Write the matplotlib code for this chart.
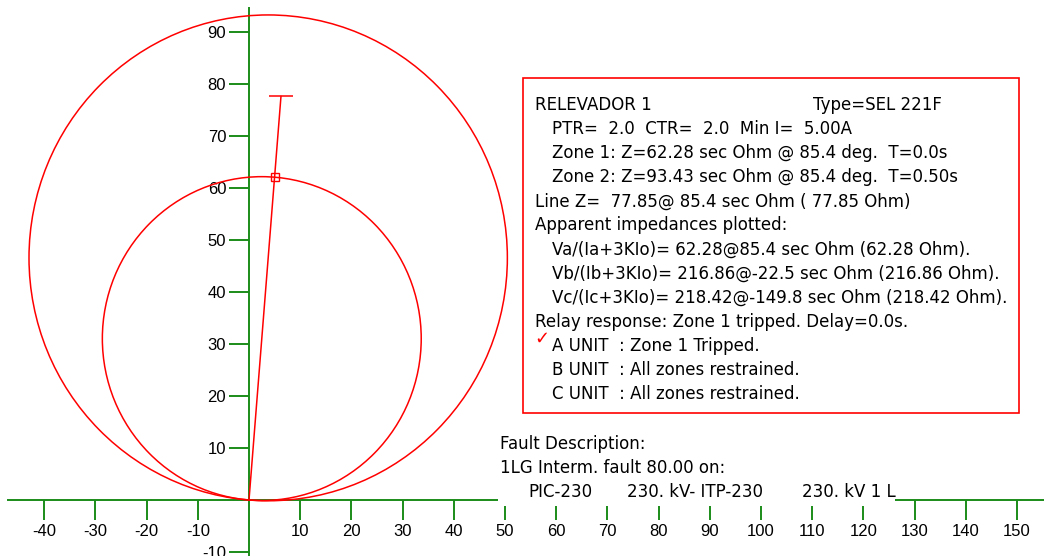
"""
Diagrama R-X do relé de distância (característica mho) com impedância aparente.
"""

import numpy as np
import matplotlib
matplotlib.use("Agg")
import matplotlib.pyplot as plt
from matplotlib.patches import Circle, Rectangle

# Dados do relé
ZONE_REACH = [62.28, 93.43]      # alcance das zonas (sec Ohm)
ZONE_ANGLE = 85.4                # ângulo de torque máximo (graus)
LINE_Z = 77.85                   # impedância da linha
LINE_ANGLE = 85.4
APPARENT_Z = 62.28               # impedância aparente da fase A
APPARENT_ANGLE = 85.4

X_TICKS = [-40, -30, -20, -10, 10, 20, 30, 40, 50, 60, 70, 80, 90,
           100, 110, 120, 130, 140, 150]
Y_TICKS = [-10, 10, 20, 30, 40, 50, 60, 70, 80, 90]

# linhas com espaço inicial são recuadas
INFO_LINES = [
    "RELEVADOR 1",
    " PTR=  2.0  CTR=  2.0  Min I=  5.00A",
    " Zone 1: Z=62.28 sec Ohm @ 85.4 deg.  T=0.0s",
    " Zone 2: Z=93.43 sec Ohm @ 85.4 deg.  T=0.50s",
    "Line Z=  77.85@ 85.4 sec Ohm ( 77.85 Ohm)",
    "Apparent impedances plotted:",
    " Va/(Ia+3KIo)= 62.28@85.4 sec Ohm (62.28 Ohm).",
    " Vb/(Ib+3KIo)= 216.86@-22.5 sec Ohm (216.86 Ohm).",
    " Vc/(Ic+3KIo)= 218.42@-149.8 sec Ohm (218.42 Ohm).",
    "Relay response: Zone 1 tripped. Delay=0.0s.",
    " A UNIT  : Zone 1 Tripped.",
    " B UNIT  : All zones restrained.",
    " C UNIT  : All zones restrained.",
]
RELAY_TYPE = "Type=SEL 221F"
FAULT_LINES = ["Fault Description:", "1LG Interm. fault 80.00 on:"]
FAULT_BUSES = ["PIC-230", "230. kV- ITP-230", "230. kV 1 L"]

W, H = 1044, 556
GREEN = "#1a8c1a"
RED = "#ff0000"
TXT = dict(fontsize=12, family="DejaVu Sans", va="center", ha="left", zorder=3)


def polar(mag, ang):
    a = np.deg2rad(ang)
    return mag * np.cos(a), mag * np.sin(a)


def fx(px):
    return px / W


def fy(py):
    return 1 - py / H


def main():
    plt.rcParams["font.family"] = ["Liberation Sans", "DejaVu Sans"]
    fig = plt.figure(figsize=(W / 100, H / 100), dpi=100)
    ax = fig.add_axes([0, 0, 1, 1])
    ax.set_xlim(-249 / 5.12, (W - 249) / 5.12)
    ax.set_ylim(-(H - 500) / 5.2, 500 / 5.2)
    ax.patch.set_alpha(0)

    # Eixos R e X
    for s in ["top", "right"]:
        ax.spines[s].set_visible(False)
    for s in ["left", "bottom"]:
        ax.spines[s].set_position(("data", 0))
        ax.spines[s].set_color(GREEN)
        ax.spines[s].set_linewidth(1.4)
    ax.spines["left"].set_bounds(-11, 94.6)
    ax.spines["bottom"].set_bounds(-47, 160)
    ax.set_xticks(X_TICKS)
    ax.set_yticks(Y_TICKS)
    ax.set_xticklabels([str(v) for v in X_TICKS])
    ax.set_yticklabels([str(v) for v in Y_TICKS])
    ax.tick_params(direction="out", length=14.4, width=1.4, color=GREEN,
                   labelsize=12, labelcolor="black")
    ax.tick_params(axis="x", pad=3)
    ax.tick_params(axis="y", pad=2)

    # Círculos mho
    for reach in ZONE_REACH:
        cx, cy = polar(reach / 2, ZONE_ANGLE)
        ax.add_patch(Circle((cx, cy), reach / 2, fill=False, edgecolor=RED,
                            lw=1.1, zorder=3))

    # Linha protegida
    lx, ly = polar(LINE_Z, LINE_ANGLE)
    ax.plot([0, lx], [0, ly], color=RED, lw=1.1, zorder=3)
    ax.plot([lx], [ly], marker="_", markersize=17, markeredgewidth=1.1,
            color=RED, zorder=3)

    # Impedância aparente
    zx, zy = polar(APPARENT_Z, APPARENT_ANGLE)
    ax.plot([zx], [zy], marker="s", markersize=6, fillstyle="none",
            markeredgewidth=1.0, color=RED, zorder=4)

    # Caixa de informações
    fig.add_artist(Rectangle((fx(523), fy(413)), (1019 - 523) / W, (413 - 78) / H,
                             transform=fig.transFigure, facecolor="white",
                             edgecolor=RED, lw=1.2, zorder=2))
    for i, line in enumerate(INFO_LINES):
        x = 552 if line.startswith(" ") else 535
        fig.text(fx(x), fy(105 + i * 24.1), line.strip(), **TXT)
    fig.text(fx(813), fy(105), RELAY_TYPE, **TXT)
    fig.text(fx(534), fy(339), "\u2713", fontsize=13, color=RED,
             family="DejaVu Sans", va="center", ha="left", zorder=3)

    # Descrição da falta
    fig.add_artist(Rectangle((fx(498), fy(506)), (895 - 498) / W, 26 / H,
                             transform=fig.transFigure, facecolor="white",
                             edgecolor="none", zorder=2))
    for i, line in enumerate(FAULT_LINES):
        fig.text(fx(500), fy(444 + i * 24), line, **TXT)
    for x, txt in zip([528, 627, 802], FAULT_BUSES):
        fig.text(fx(x), fy(492), txt, **TXT)

    fig.savefig("out.png", dpi=100)
    plt.close(fig)


if __name__ == "__main__":
    main()
